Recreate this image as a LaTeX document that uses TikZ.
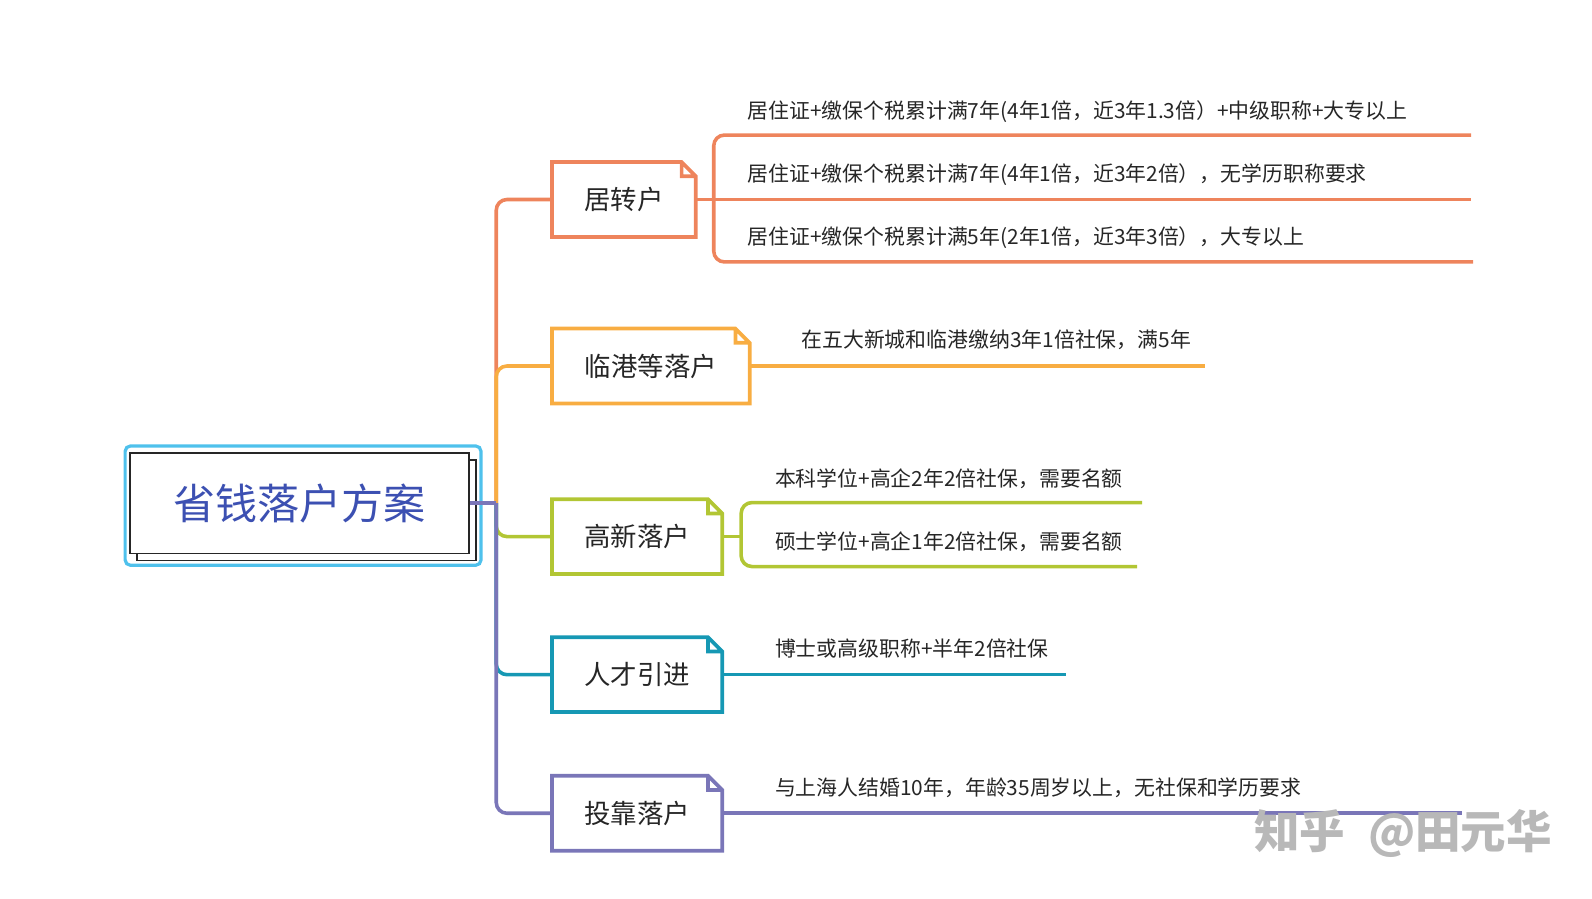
\documentclass[tikz,border=0pt]{standalone}
\usepackage{fontspec}
\setmainfont{Noto Sans CJK SC}
\usetikzlibrary{shadows}
\definecolor{cOrange}{RGB}{238,132,92}
\definecolor{cYellow}{RGB}{248,173,66}
\definecolor{cGreen}{RGB}{178,198,52}
\definecolor{cTeal}{RGB}{22,152,180}
\definecolor{cPurple}{RGB}{122,118,184}
\definecolor{cFrame}{RGB}{79,193,236}
\definecolor{cTitle}{RGB}{60,80,178}
\begin{document}
\begin{tikzpicture}[x=0.02cm, y=-0.02cm,
  every node/.style={text=black!85, font=\fontsize{11.7}{14}\selectfont},
  link/.style={line width=2pt, rounded corners=6pt},
  notebox/.style={minimum width=#1, minimum height=1.46cm, inner sep=0pt, font=\fontsize{14.8}{18}\selectfont},
  notefold/.style={line width=2.1pt, line join=miter},
  leaf/.style={anchor=west, inner sep=0pt}]
  \useasboundingbox (0,0) rectangle (1568,885);
  \node[draw=black!85, line width=0.9pt, fill=white, minimum width=6.68cm, minimum height=1.98cm,
    copy shadow={shadow xshift=0.14cm, shadow yshift=-0.14cm},
    text=cTitle, font=\fontsize{23.6}{28}\selectfont] (root) at (295,495.5) {省钱落户方案};
  \draw[cFrame, line width=1.8pt, rounded corners=3pt] ([shift={(-4,-6)}]root.north west) rectangle ([shift={(11,11)}]root.south east);
  \path (root.east) ++(26,0) coordinate (hub);
  \node[notebox=2.82cm] (jz) at (614.5,196.5) {居转户};
  \node[notebox=3.88cm] (lg) at (641,360.5) {临港等落户};
  \node[notebox=3.34cm] (gx) at (627.5,528.5) {高新落户};
  \node[notebox=3.34cm] (rc) at (627.5,664.5) {人才引进};
  \node[notebox=3.34cm] (tk) at (627.5,801) {投靠落户};
  \draw[link, cOrange] (hub) |- (jz.west);
  \draw[link, cYellow] (hub) |- (lg.west);
  \draw[link, cGreen] (hub) |- (gx.west);
  \draw[link, cTeal] (hub) |- (rc.west);
  \draw[link, cPurple] (hub) |- (tk.west);
  \draw[link, cPurple] (root.east) -- (hub);
  \foreach \n/\col in {jz/cOrange, lg/cYellow, gx/cGreen, rc/cTeal, tk/cPurple}
    \draw[notefold, draw=\col] (\n.south west) -- (\n.north west) -- ([xshift=-0.28cm]\n.north east)
      -- ([yshift=-0.28cm]\n.north east) -- (\n.south east) -- cycle
      ([xshift=-0.28cm]\n.north east) |- ([yshift=-0.28cm]\n.north east);
  \node[leaf] (jz1) at (736,110) {居住证+缴保个税累计满7年(4年1倍，近3年1.3倍）+中级职称+大专以上};
  \node[leaf] (jz2) at (736,172) {居住证+缴保个税累计满7年(4年1倍，近3年2倍），无学历职称要求};
  \node[leaf] (jz3) at (736,234) {居住证+缴保个税累计满5年(2年1倍，近3年3倍），大专以上};
  \coordinate (jzA) at (1449,133); \coordinate (jzK) at (703,258); \coordinate (jzC) at (1451,258);
  \draw[link, cOrange] (jzA) -| (jzK) -- (jzC);
  \draw[link, cOrange] (jz.east) -- (jz.east -| jzA);
  \node[leaf] (lg1) at (789,335) {在五大新城和临港缴纳3年1倍社保，满5年};
  \coordinate (lgE) at (1187,360.5);
  \draw[link, cYellow] (lg.east) -- (lgE);
  \node[leaf] (gx1) at (763,472) {本科学位+高企2年2倍社保，需要名额};
  \node[leaf] (gx2) at (763,534) {硕士学位+高企1年2倍社保，需要名额};
  \coordinate (gxA) at (1125,495); \coordinate (gxK) at (730,558); \coordinate (gxC) at (1120,558);
  \draw[link, cGreen] (gxA) -| (gxK) -- (gxC);
  \draw[link, cGreen] (gx.east) -- (gx.east -| gxK);
  \node[leaf] (rc1) at (763,639) {博士或高级职称+半年2倍社保};
  \coordinate (rcE) at (1050,664.5);
  \draw[link, cTeal] (rc.east) -- (rcE);
  \node[leaf] (tk1) at (763,776) {与上海人结婚10年，年龄35周岁以上，无社保和学历要求};
  \coordinate (tkE) at (1440,801);
  \draw[link, cPurple] (tk.east) -- (tkE);
  \node[text=black!28, font=\fontsize{25.5}{30}\selectfont\bfseries] (wm) at (1382,821) {知乎\hspace{0.5em}@田元华};
\end{tikzpicture}
\end{document}
